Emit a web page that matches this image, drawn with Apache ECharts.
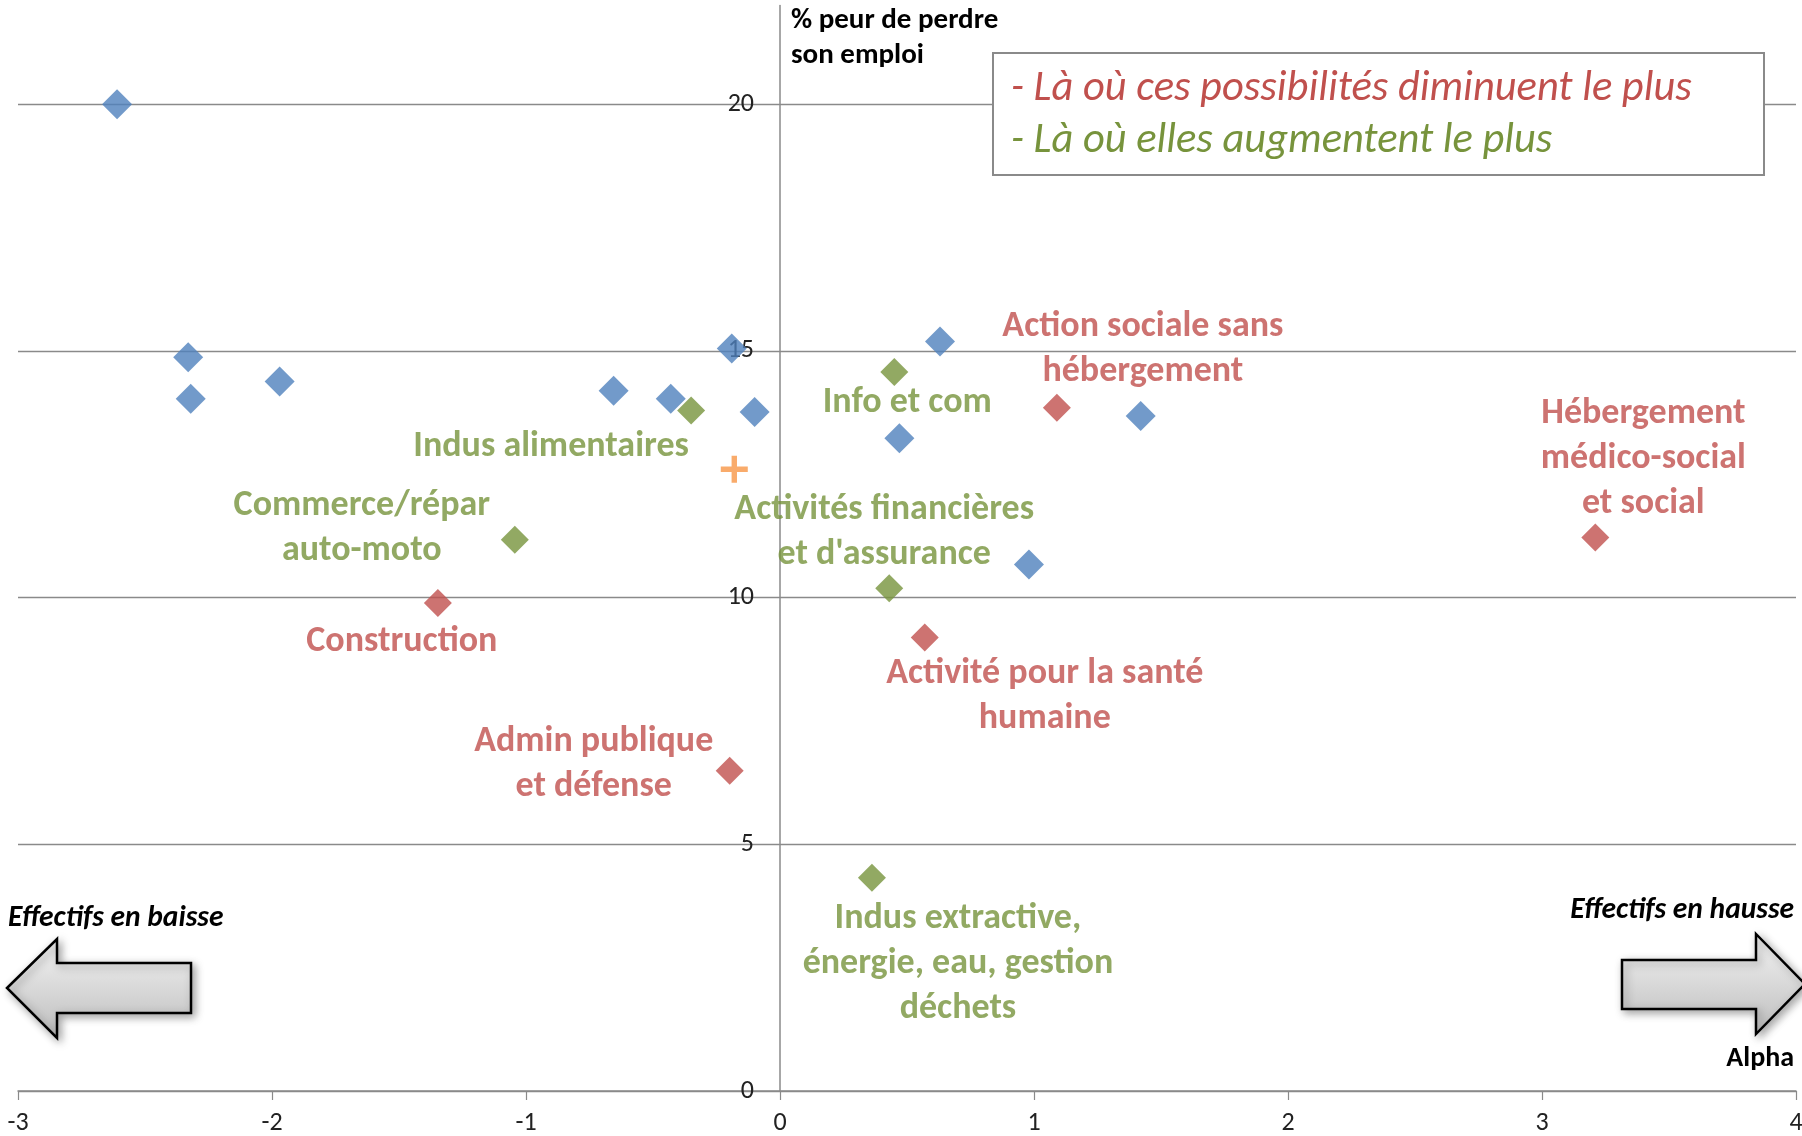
<!DOCTYPE html>
<html>
<head>
<meta charset="utf-8">
<script src="https://cdn.jsdelivr.net/npm/echarts@6/dist/echarts.min.js"></script>
<style>
  html, body { margin: 0; padding: 0; background: #fff; }
  #chart { width: 1802px; height: 1136px; }
</style>
</head>
<body>
<div id="chart"></div>
<script>
// Alpha (employment trend) vs. share of workers afraid of losing their job, by sector

// All sectors (blue diamonds)
const allX = [-2.61, -2.33, -2.32, -1.97, -0.655, -0.43, -0.19, -0.10, 0.63, 0.47, 1.42, 0.98];
const allY = [20.0, 14.87, 14.03, 14.38, 14.19, 14.03, 15.05, 13.76, 15.19, 13.23, 13.68, 10.67];

// Sectors where opportunities increase the most (green)
const upNames = ['Indus alimentaires', 'Info et com', 'Commerce/répar\nauto-moto',
                 'Activités financières\net d\'assurance', 'Indus extractive,\nénergie, eau, gestion\ndéchets'];
const upX = [-0.35, 0.45, -1.044, 0.43, 0.362];
const upY = [13.79, 14.57, 11.17, 10.19, 4.32];

// Sectors where opportunities decrease the most (red)
const downNames = ['Construction', 'Admin publique\net défense', 'Activité pour la santé\nhumaine',
                   'Action sociale sans\nhébergement', 'Hébergement\nmédico-social\net social'];
const downX = [-1.347, -0.198, 0.57, 1.09, 3.21];
const downY = [9.89, 6.49, 9.19, 13.85, 11.22];

// Overall average
const avgX = [-0.18];
const avgY = [12.6];

// Axis ticks
const xTicks = [-3, -2, -1, 0, 1, 2, 3, 4];
const yTicks = [0, 5, 10, 15, 20];

// Label placement relative to each marker (pixels)
const labelOffsets = {
  'Indus alimentaires': [-140, 36],
  'Info et com': [13, 31],
  'Commerce/répar\nauto-moto': [-153, -11],
  'Activités financières\net d\'assurance': [-5, -56],
  'Indus extractive,\nénergie, eau, gestion\ndéchets': [86, 86],
  'Construction': [-36, 39],
  'Admin publique\net défense': [-136, -6],
  'Activité pour la santé\nhumaine': [120, 59],
  'Action sociale sans\nhébergement': [86, -58],
  'Hébergement\nmédico-social\net social': [48, -78]
};

const FONT = 'Carlito, Lato, sans-serif';
const RED = '#C0504D', GREEN = '#77933C', BLUE = '#4F81BD', ORANGE = '#F79646';

// plot area: x from -3 to 4 spans 18..1796 px
const GRID_LEFT = 18, GRID_RIGHT = 6;
const PX_PER_X = (1802 - GRID_LEFT - GRID_RIGHT) / (xTicks[xTicks.length - 1] - xTicks[0]);

function labelled(names, xs, ys, color) {
  return names.map((n, i) => ({
    name: n,
    value: [xs[i], ys[i]],
    label: {
      show: true,
      position: 'inside',
      offset: labelOffsets[n],
      formatter: '{b}',
      color: color,
      fontFamily: FONT,
      fontWeight: 'bold',
      fontSize: 36,
      lineHeight: 45,
      align: 'center',
      verticalAlign: 'middle'
    }
  }));
}

function pairs(xs, ys) { return xs.map((x, i) => [x, ys[i]]); }

function arrow(points) {
  return {
    type: 'polygon',
    shape: { points: points },
    style: {
      fill: { type: 'linear', x: 0, y: 0, x2: 0, y2: 1,
              colorStops: [{ offset: 0, color: '#f4f4f4' }, { offset: 1, color: '#bdbdbd' }] },
      stroke: '#000', lineWidth: 2.5,
      shadowBlur: 8, shadowColor: 'rgba(0,0,0,0.35)', shadowOffsetX: 3, shadowOffsetY: 3
    },
    z: 1
  };
}

const chart = echarts.init(document.getElementById('chart'), null, { renderer: 'canvas' });

chart.setOption({
  backgroundColor: '#fff',
  animation: false,
  grid: { left: GRID_LEFT, right: GRID_RIGHT, top: 5.5, bottom: 45,
          containLabel: false, outerBoundsMode: 'none' },
  xAxis: {
    type: 'value', min: xTicks[0], max: xTicks[xTicks.length - 1], interval: 1,
    axisLine: { onZero: false, lineStyle: { color: '#8a8a8a', width: 1.5 } },
    axisTick: { show: true, length: 9, lineStyle: { color: '#8a8a8a', width: 1.2 } },
    axisLabel: { color: '#222', fontFamily: FONT, fontSize: 26, margin: 19 },
    splitLine: { show: false }
  },
  yAxis: {
    type: 'value', min: yTicks[0], max: 22, interval: 5,
    position: 'left',
    // the vertical axis crosses the horizontal one at x = 0
    offset: -(0 - xTicks[0]) * PX_PER_X,
    axisLine: { show: true, onZero: false, lineStyle: { color: '#8a8a8a', width: 1.5 } },
    axisTick: { show: false },
    axisLabel: { color: '#222', fontFamily: FONT, fontSize: 26, margin: 26, showMaxLabel: false,
                 formatter: v => (yTicks.indexOf(v) >= 0 ? String(v) : '') },
    splitLine: { show: true, showMaxLine: false, lineStyle: { color: '#8a8a8a', width: 1.3 } }
  },
  series: [
    {
      type: 'scatter', name: 'Ensemble', symbol: 'diamond', symbolSize: [30, 30],
      itemStyle: { color: BLUE }, data: pairs(allX, allY), z: 3
    },
    {
      type: 'scatter', name: 'Hausse', symbol: 'diamond', symbolSize: [28, 28],
      itemStyle: { color: GREEN }, data: labelled(upNames, upX, upY, GREEN), z: 4
    },
    {
      type: 'scatter', name: 'Baisse', symbol: 'diamond', symbolSize: [28, 28],
      itemStyle: { color: RED }, data: labelled(downNames, downX, downY, RED), z: 4
    },
    {
      type: 'scatter', name: 'Moyenne', symbol: 'path://M4,0h2v4h4v2h-4v4h-2v-4h-4v-2h4z',
      symbolSize: [27, 27], itemStyle: { color: ORANGE }, data: pairs(avgX, avgY), z: 4
    }
  ],
  graphic: [
    // y-axis title
    { type: 'text', x: 791, y: 3, z: 10,
      style: { text: '% peur de perdre\nson emploi', font: 'bold 29px ' + FONT, fill: '#000',
               lineHeight: 35, textAlign: 'left', textVerticalAlign: 'top' } },
    // x-axis title
    { type: 'text', x: 1794, y: 1059, z: 10,
      style: { text: 'Alpha', font: 'bold 28px ' + FONT, fill: '#000',
               textAlign: 'right', textVerticalAlign: 'middle' } },
    // direction captions
    { type: 'text', x: 8, y: 919, z: 10,
      style: { text: 'Effectifs en baisse', font: 'italic bold 29.5px ' + FONT, fill: '#000',
               textAlign: 'left', textVerticalAlign: 'middle' } },
    { type: 'text', x: 1794, y: 911, z: 10,
      style: { text: 'Effectifs en hausse', font: 'italic bold 29.5px ' + FONT, fill: '#000',
               textAlign: 'right', textVerticalAlign: 'middle' } },
    // direction arrows
    arrow([[7, 988], [57, 939], [57, 963], [191, 963], [191, 1013], [57, 1013], [57, 1038]]),
    arrow([[1805, 984], [1756, 934], [1756, 960], [1622, 960], [1622, 1009], [1756, 1009], [1756, 1034]]),
    // key box
    { type: 'rect', z: 10, shape: { x: 993, y: 53, width: 771, height: 122 },
      style: { fill: '#fff', stroke: '#8a8a8a', lineWidth: 2 } },
    { type: 'text', x: 1011, y: 89, z: 11,
      style: { text: '- Là où ces possibilités diminuent le plus', font: 'italic 42.5px ' + FONT,
               fill: RED, textAlign: 'left', textVerticalAlign: 'middle' } },
    { type: 'text', x: 1011, y: 141, z: 11,
      style: { text: '- Là où elles augmentent le plus', font: 'italic 42.5px ' + FONT,
               fill: GREEN, textAlign: 'left', textVerticalAlign: 'middle' } }
  ]
});
</script>
</body>
</html>
